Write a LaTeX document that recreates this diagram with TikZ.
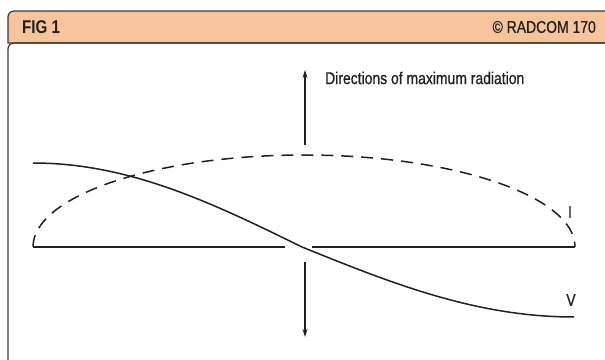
\documentclass[tikz,border=0pt]{standalone}
\usepackage{fontspec}
\setmainfont{Liberation Sans}[FakeStretch=0.82]
\newfontfamily\labelfont{Liberation Sans}[FakeStretch=0.82, FakeBold=0.7]
\usetikzlibrary{arrows.meta}
\definecolor{peach}{HTML}{F6C59D}
\definecolor{ink}{HTML}{231F20}
\definecolor{rule}{HTML}{3A3A3A}

\begin{document}
\begin{tikzpicture}[
  x=1pt, y=1pt,
  every node/.style={text=ink, inner sep=0pt, font=\labelfont\fontsize{17}{20}\selectfont},
  wire/.style={ink, line width=1.5pt},
  feeder/.style={ink, line width=1.4pt, -{Stealth[length=8pt, width=5pt]}},
]
\useasboundingbox (0,0) rectangle (605,359);

% Frame
\draw[rule, line width=1.2pt, fill=peach] (612,316) -- (8,316) -- (8,342)
  arc[start angle=180, end angle=90, radius=6] -- (612,348);
\draw[rule, line width=1.2pt] (612,316) -- (14,316)
  arc[start angle=90, end angle=180, radius=6] -- (8,-2);

% Header
\node[font=\fontsize{18.5}{20}\selectfont\bfseries, anchor=west] (fig) at (22,332) {FIG 1};
\node[font=\labelfont\fontsize{17}{18}\selectfont, anchor=east] (credit) at (596,332) {\textcopyright{} RADCOM 170};

% Dipole
\coordinate (leftend) at (33,112);
\coordinate (gapleft) at (285,112);
\coordinate (gapright) at (312,112);
\coordinate (rightend) at (575,112);
\draw[wire] (leftend) -- (gapleft);
\draw[wire] (gapright) -- (rightend);

% Current (dashed)
\draw[wire, dash pattern=on 12pt off 8pt] (leftend)
  arc[start angle=180, end angle=0, x radius=271, y radius=92];

% Voltage (solid)
\draw[wire] plot[domain=33:302, samples=40] (\x, {112 + 84*sin(0.33457*(302-\x))})
  -- plot[domain=302:574, samples=40] (\x, {112 - 70*sin(0.33088*(\x-302))});

% Directions of maximum radiation
\coordinate (upfoot) at (305,214);
\coordinate (uptip) at (305,289);
\coordinate (downfoot) at (305,97);
\coordinate (downtip) at (305,22);
\draw[feeder] (upfoot) -- (uptip);
\draw[feeder] (downfoot) -- (downtip);
\node[anchor=west] (dirlabel) at (325,281) {Directions of maximum radiation};

% Curve labels
\node (ilabel) at (570,147) {I};
\node (vlabel) at (571,59) {V};

\end{tikzpicture}
\end{document}
